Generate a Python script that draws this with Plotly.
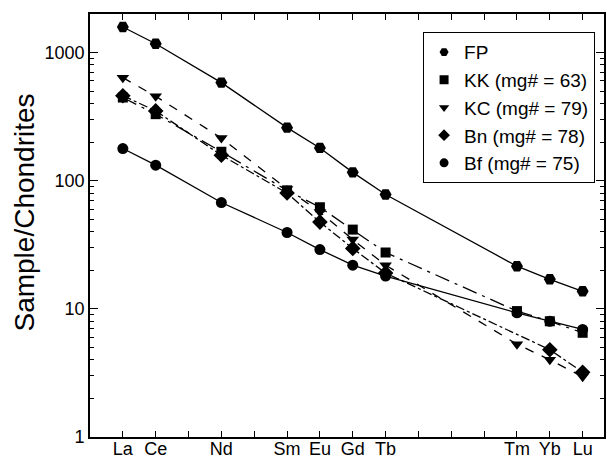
import plotly.graph_objects as go

# REE positions (atomic number) and labels
ree_all = ["La", "Ce", "Pr", "Nd", "Pm", "Sm", "Eu", "Gd", "Tb", "Dy", "Ho", "Er", "Tm", "Yb", "Lu"]
ree_z = list(range(57, 72))
elements = ["La", "Ce", "Nd", "Sm", "Eu", "Gd", "Tb", "Tm", "Yb", "Lu"]
elem_z = [57, 58, 60, 62, 63, 64, 65, 69, 70, 71]

FP = [1580, 1170, 582, 259, 180, 116, 78, 21.5, 17, 13.7]
KK = [445, 330, 168, 84, 62, 41.5, 27.5, 9.6, 8.0, 6.5]
KC = [636, 455, 215, 86, 57, 34.7, 21.9, 5.3, 4.0, 2.95]
Bn = [460, 350, 158, 80, 47.5, 29.6, 19, None, 4.8, 3.2]
Bf = [178, 132, 67.5, 39.4, 29, 21.9, 18, 9.3, 8.0, 6.9]

legend_names = ["FP", "KK (mg# = 63)", "KC (mg# = 79)", "Bn (mg# = 78)", "Bf (mg# = 75)"]

y_major = [1, 10, 100, 1000]
y_minor = [m * 10 ** e for e in range(0, 4) for m in range(2, 10)]

FONT = "Liberation Sans, Arial, Helvetica, sans-serif"

series = [
    ("Bf", Bf, "circle", "solid", 11),
    ("Bn", Bn, "diamond", "dashdot", 12),
    ("KK", KK, "square", "longdashdot", 10),
    ("KC", KC, "triangle-down", "dash", 11),
    ("FP", FP, "hexagon2", "solid", 12),
]

fig = go.Figure()
for name, vals, sym, dash, size in series:
    fig.add_trace(go.Scatter(
        x=elem_z, y=vals, mode="lines+markers", name=name, showlegend=False,
        connectgaps=True,
        line=dict(color="black", width=1.3, dash=dash),
        marker=dict(symbol=sym, size=size, color="black"),
    ))

legend_syms = ["hexagon2", "square", "triangle-down", "diamond", "circle"]
for nm, sym in zip(legend_names, legend_syms):
    fig.add_trace(go.Scatter(
        x=[None], y=[None], mode="markers", name=nm,
        marker=dict(symbol=sym, size=9, color="black"),
    ))

ticktext = [s if s in elements else "" for s in ree_all]

fig.update_layout(
    width=607, height=459,
    margin=dict(l=90, r=3, t=14, b=22, autoexpand=False),
    paper_bgcolor="white", plot_bgcolor="white",
    font=dict(family=FONT, color="black", size=18),
    showlegend=True,
    legend=dict(
        x=0.648, y=0.957, xanchor="left", yanchor="top",
        bgcolor="white", bordercolor="black", borderwidth=1,
        font=dict(size=19, family=FONT),
        tracegroupgap=0, itemwidth=30,
    ),
    annotations=[dict(
        text="Sample/Chondrites", textangle=-90, showarrow=False,
        xref="paper", yref="paper", x=-0.127, y=0.53,
        xanchor="center", yanchor="middle",
        font=dict(size=28, family=FONT, color="black"),
    )],
)

fig.update_xaxes(
    range=[56, 71.65], tickmode="array", tickvals=ree_z, ticktext=ticktext,
    ticks="inside", ticklen=6, tickwidth=1, tickcolor="black",
    showline=True, linecolor="black", linewidth=1.6, mirror="allticks",
    showgrid=False, zeroline=False, tickfont=dict(size=18), automargin=False,
    ticklabelstandoff=-5,
)
fig.update_yaxes(
    type="log", range=[0, 3.3], tickmode="array", tickvals=y_major,
    ticktext=[str(v) for v in y_major],
    ticks="inside", ticklen=8, tickwidth=1, tickcolor="black",
    minor=dict(tickmode="array", tickvals=y_minor, ticks="inside", ticklen=4, tickwidth=1, tickcolor="black", showgrid=False),
    showline=True, linecolor="black", linewidth=1.6, mirror="allticks",
    showgrid=False, zeroline=False, tickfont=dict(size=18), automargin=False,
)

fig.write_html("out.html")
